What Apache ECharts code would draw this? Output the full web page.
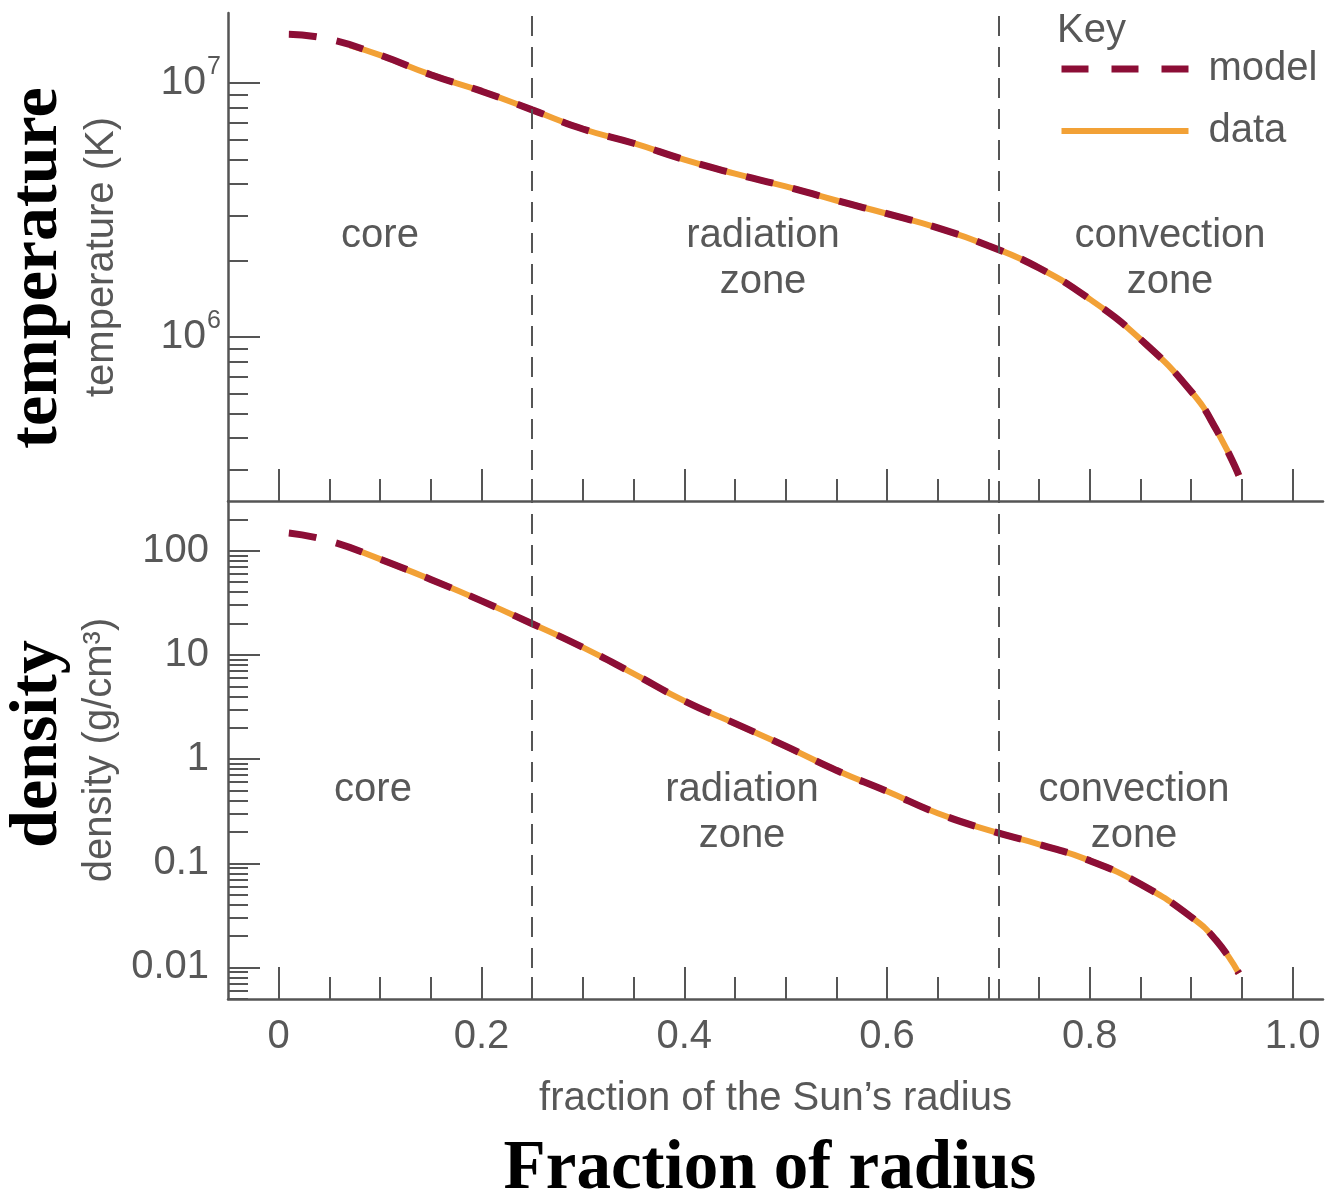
<!DOCTYPE html>
<html>
<head>
<meta charset="utf-8">
<title>Temperature and density inside the Sun</title>
<script src="https://cdn.jsdelivr.net/npm/echarts@6.0.0/dist/echarts.min.js"></script>
<style>
  html, body { margin: 0; padding: 0; background: #fff; }
  #chart { width: 1327px; height: 1198px; }
</style>
</head>
<body>
<div id="chart"></div>
<script>
// fraction of the Sun's radius
const modelRadius = [0.01, 0.05, 0.10, 0.15, 0.20, 0.25, 0.30, 0.35, 0.40, 0.45, 0.50, 0.55, 0.60, 0.65, 0.70, 0.75, 0.80, 0.85, 0.90, 0.925, 0.947]
// K
const modelTemperature = [1.56e7, 1.49e7, 1.29e7, 1.08e7, 9.3e6, 7.85e6, 6.6e6, 5.8e6, 5.0e6, 4.4e6, 3.92e6, 3.45e6, 3.06e6, 2.69e6, 2.29e6, 1.87e6, 1.41e6, 9.8e5, 6.1e5, 4.3e5, 2.85e5]
// g/cm3
const modelDensity = [148, 124, 83, 53, 33, 19.9, 11.8, 6.6, 3.62, 2.2, 1.33, 0.78, 0.49, 0.302, 0.208, 0.152, 0.106, 0.063, 0.0305, 0.018, 0.0088]

const dataRadius = [0.07, 0.10, 0.15, 0.20, 0.25, 0.30, 0.35, 0.40, 0.45, 0.50, 0.55, 0.60, 0.65, 0.70, 0.75, 0.80, 0.85, 0.90, 0.925, 0.947]
const dataTemperature = [1.41e7, 1.29e7, 1.08e7, 9.3e6, 7.85e6, 6.6e6, 5.8e6, 5.0e6, 4.4e6, 3.92e6, 3.45e6, 3.06e6, 2.69e6, 2.29e6, 1.87e6, 1.41e6, 9.8e5, 6.1e5, 4.3e5, 2.85e5]
const dataDensity = [108, 83, 53, 33, 19.9, 11.8, 6.6, 3.62, 2.2, 1.33, 0.78, 0.49, 0.302, 0.208, 0.152, 0.106, 0.063, 0.0305, 0.018, 0.0088]

// zone boundaries (core / radiation, radiation / convection)
const zoneBoundaries = [0.25, 0.71]

// ticks
const radiusMinorTicks = [0, 0.05, 0.1, 0.15, 0.2, 0.25, 0.3, 0.35, 0.4, 0.45, 0.5, 0.55, 0.6, 0.65, 0.7, 0.75, 0.8, 0.85, 0.9, 0.95, 1.0]
const radiusMajorTicks = [0, 0.2, 0.4, 0.6, 0.8, 1.0]
const radiusTickLabels = ['0', '0.2', '0.4', '0.6', '0.8', '1.0']

const temperatureRange = [2.26e5, 1.89e7]
const temperatureMajorTicks = [1e6, 1e7]
const temperatureMinorTicks = [3e5, 4e5, 5e5, 6e5, 7e5, 8e5, 9e5, 2e6, 3e6, 4e6, 5e6, 6e6, 7e6, 8e6, 9e6]

const densityRange = [0.00498, 300]
const densityMajorTicks = [0.01, 0.1, 1, 10, 100]
const densityTickLabels = ['0.01', '0.1', '1', '10', '100']
const densityMinorTicks = [
  0.005, 0.006, 0.007, 0.008, 0.009,
  0.02, 0.03, 0.04, 0.05, 0.06, 0.07, 0.08, 0.09,
  0.2, 0.3, 0.4, 0.5, 0.6, 0.7, 0.8, 0.9,
  2, 3, 4, 5, 6, 7, 8, 9,
  20, 30, 40, 50, 60, 70, 80, 90,
  200
]

const axisColor = '#555'
const textColor = '#585858'
const sans = '"Liberation Sans", Arial, sans-serif'
const serif = '"Liberation Serif", "Times New Roman", serif'
const modelColor = '#8c0e36'
const dataColor = '#f2a136'
const modelDash = [28, 20]

const lg = v => Math.log10(v)

const chart = echarts.init(document.getElementById('chart'))

function radiusAxis(gridIndex, ticks, tickLength, main, withLabels) {
  const axis = {
    type: 'value',
    gridIndex,
    position: 'bottom',
    min: -0.05,
    max: 1.03,
    axisLine: { show: main, onZero: false, lineStyle: { color: axisColor, width: 2.5 } },
    axisTick: { show: true, inside: true, length: tickLength, customValues: ticks, lineStyle: { color: axisColor, width: 2 } },
    axisLabel: { show: false },
    splitLine: { show: false }
  }
  if (withLabels) {
    axis.axisLabel = {
      show: true,
      customValues: radiusMajorTicks,
      margin: 18,
      color: textColor,
      fontFamily: sans,
      fontSize: 40,
      formatter: v => radiusTickLabels[radiusMajorTicks.findIndex(t => Math.abs(t - v) < 1e-6)]
    }
    axis.name = 'fraction of the Sun\u2019s radius'
    axis.nameLocation = 'middle'
    axis.nameGap = 80
    axis.nameTextStyle = { color: textColor, fontFamily: sans, fontSize: 40 }
  }
  return axis
}

function logAxis(gridIndex, range, ticks, tickLength, main) {
  return {
    type: 'value',
    gridIndex,
    position: 'left',
    min: lg(range[0]),
    max: lg(range[1]),
    axisLine: { show: main, onZero: false, lineStyle: { color: axisColor, width: 2.5 } },
    axisTick: { show: true, inside: true, length: tickLength, customValues: ticks.map(lg), lineStyle: { color: axisColor, width: 2 } },
    axisLabel: { show: false },
    splitLine: { show: false }
  }
}

const tempMain = logAxis(0, temperatureRange, temperatureMajorTicks, 32, true)
tempMain.axisLabel = {
  show: true,
  customValues: temperatureMajorTicks.map(lg),
  margin: 7,
  formatter: v => '{b|10}{s|' + Math.round(v) + '}',
  rich: {
    b: { fontFamily: sans, fontSize: 41, color: textColor },
    s: { fontFamily: sans, fontSize: 25, color: textColor, verticalAlign: 'top', padding: [0, 0, 32, 1] }
  }
}
tempMain.name = 'temperature (K)'
tempMain.nameLocation = 'middle'
tempMain.nameGap = 106
tempMain.nameTextStyle = { color: textColor, fontFamily: sans, fontSize: 40 }

const densMain = logAxis(1, densityRange, densityMajorTicks, 32, true)
densMain.axisLabel = {
  show: true,
  customValues: densityMajorTicks.map(lg),
  margin: 19,
  color: textColor,
  fontFamily: sans,
  fontSize: 40,
  formatter: v => densityTickLabels[densityMajorTicks.findIndex(t => Math.abs(lg(t) - v) < 1e-6)]
}
densMain.name = 'density (g/cm\u00b3)'
densMain.nameLocation = 'middle'
densMain.nameGap = 106
densMain.nameTextStyle = { color: textColor, fontFamily: sans, fontSize: 40 }

function modelSeries(name, xIdx, yIdx, xs, ys) {
  return {
    name,
    type: 'line',
    xAxisIndex: xIdx,
    yAxisIndex: yIdx,
    data: xs.map((r, i) => [r, lg(ys[i])]),
    smooth: 0.5,
    symbol: 'none',
    z: 4,
    lineStyle: { color: modelColor, width: 7, type: modelDash, cap: 'butt' },
    itemStyle: { color: modelColor },
    markLine: {
      silent: true,
      symbol: ['none', 'none'],
      label: { show: false },
      lineStyle: { color: axisColor, width: 2, type: [20, 11] },
      emphasis: { disabled: true },
      data: zoneBoundaries.map(b => ({ xAxis: b }))
    }
  }
}

function dataSeries(name, xIdx, yIdx, xs, ys) {
  return {
    name,
    type: 'line',
    xAxisIndex: xIdx,
    yAxisIndex: yIdx,
    data: xs.map((r, i) => [r, lg(ys[i])]),
    smooth: 0.5,
    symbol: 'none',
    z: 3,
    lineStyle: { color: dataColor, width: 6 },
    itemStyle: { color: dataColor }
  }
}

const zoneText = (text, x, y) => ({
  type: 'text',
  x, y,
  silent: true,
  style: { text, align: 'center', verticalAlign: 'middle', fill: textColor, font: '40px ' + sans, lineHeight: 46 }
})

const option = {
  animation: false,
  backgroundColor: '#fff',
  grid: [
    { left: 228, top: 13, width: 1095, height: 488, outerBoundsMode: 'none' },
    { left: 228, top: 501, width: 1095, height: 498, outerBoundsMode: 'none' }
  ],
  legend: {
    orient: 'vertical',
    left: 1058,
    top: 48,
    padding: 0,
    itemWidth: 127,
    itemHeight: 20,
    itemGap: 20,
    itemStyle: { opacity: 0 },
    data: [
      { name: 'model', lineStyle: { width: 7, type: [27, 23], cap: 'butt' } },
      { name: 'data', lineStyle: { width: 6 } }
    ],
    textStyle: { color: textColor, fontFamily: sans, fontSize: 40, lineHeight: 42, padding: [0, 0, 0, 15] }
  },
  xAxis: [
    radiusAxis(0, radiusMinorTicks, 22, true, false),
    radiusAxis(0, radiusMajorTicks, 32, false, false),
    radiusAxis(1, radiusMinorTicks, 22, true, true),
    radiusAxis(1, radiusMajorTicks, 32, false, false)
  ],
  yAxis: [
    tempMain,
    logAxis(0, temperatureRange, temperatureMinorTicks, 20, false),
    densMain,
    logAxis(1, densityRange, densityMinorTicks, 20, false)
  ],
  series: [
    dataSeries('data', 0, 0, dataRadius, dataTemperature),
    modelSeries('model', 0, 0, modelRadius, modelTemperature),
    dataSeries('data', 2, 2, dataRadius, dataDensity),
    modelSeries('model', 2, 2, modelRadius, modelDensity)
  ],
  graphic: [
    { type: 'text', x: 1057, y: 31, silent: true, style: { text: 'Key', verticalAlign: 'middle', fill: textColor, font: '40px ' + sans } },
    zoneText('core', 380, 236),
    zoneText('radiation\nzone', 763, 259),
    zoneText('convection\nzone', 1170, 259),
    zoneText('core', 373, 790),
    zoneText('radiation\nzone', 742, 813),
    zoneText('convection\nzone', 1134, 813),
    { type: 'text', x: 38, y: 268, rotation: Math.PI / 2, silent: true, style: { text: 'temperature', align: 'center', verticalAlign: 'middle', fill: '#000', font: 'bold 68px ' + serif } },
    { type: 'text', x: 38, y: 744, rotation: Math.PI / 2, silent: true, style: { text: 'density', align: 'center', verticalAlign: 'middle', fill: '#000', font: 'bold 68px ' + serif } },
    { type: 'text', x: 770, y: 1170, silent: true, style: { text: 'Fraction of radius', align: 'center', verticalAlign: 'middle', fill: '#000', font: 'bold 69px ' + serif } }
  ]
}

chart.setOption(option)

window.addEventListener('resize', () => chart.resize())
</script>
</body>
</html>
